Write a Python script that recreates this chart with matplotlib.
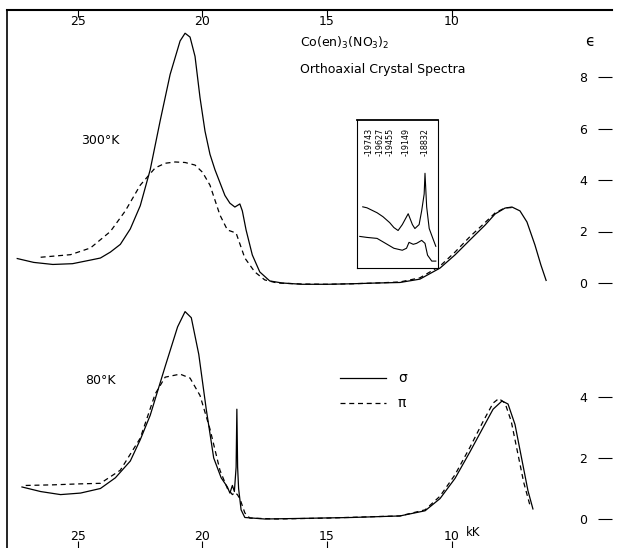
import matplotlib
matplotlib.use("Agg")
import matplotlib.pyplot as plt
from matplotlib.lines import Line2D

# --- 300 K spectra (kK, epsilon) ---
k300_sig = [27.44, 26.78, 26.01, 25.22, 24.45, 24.1, 23.7, 23.3, 22.9, 22.5, 22.1, 21.7,
            21.3, 20.9, 20.7, 20.5, 20.3, 20.1, 19.9, 19.7, 19.5, 19.3, 19.1, 18.9,
            18.7, 18.5, 18.4, 18.25, 18.0, 17.7, 17.3, 16.8, 16.0, 15.0, 14.0, 13.0,
            12.07, 11.27, 10.46, 9.86, 9.26, 8.65, 8.25, 7.85, 7.57, 7.25, 6.97, 6.65,
            6.41, 6.2]
e300_sig = [0.95, 0.8, 0.72, 0.75, 0.9, 0.97, 1.2, 1.5, 2.1, 3.0, 4.4, 6.3,
            8.1, 9.4, 9.7, 9.55, 8.8, 7.2, 5.9, 5.0, 4.4, 3.9, 3.4, 3.1,
            2.95, 3.07, 2.8, 2.06, 1.09, 0.43, 0.08, 0.0, -0.05, -0.05, -0.03, 0.0,
            0.02, 0.15, 0.58, 1.09, 1.67, 2.25, 2.68, 2.91, 2.95, 2.8, 2.37, 1.48,
            0.7, 0.1]

k300_pi = [26.5, 25.3, 24.5, 23.7, 23.1, 22.5, 21.9, 21.5, 21.1, 20.7, 20.3, 20.0,
           19.7, 19.3, 19.0, 18.65, 18.3, 17.9, 17.5, 17.0, 16.0, 15.0, 14.0, 13.0,
           12.07, 11.27, 10.46, 9.86, 9.26, 8.65, 8.25, 7.85, 7.57]
e300_pi = [1.0, 1.1, 1.36, 2.0, 2.8, 3.8, 4.47, 4.65, 4.7, 4.68, 4.58, 4.3,
           3.8, 2.64, 2.06, 1.94, 0.97, 0.43, 0.12, 0.0, -0.04, -0.05, -0.03, 0.0,
           0.04, 0.2, 0.66, 1.2, 1.8, 2.35, 2.72, 2.92, 2.93]

# --- 80 K spectra ---
k80_sig = [27.25, 26.5, 25.7, 24.9, 24.1, 23.5, 22.9, 22.5, 22.1, 21.5, 21.0, 20.7,
           20.45, 20.15, 19.85, 19.55, 19.25, 19.0, 18.9, 18.8, 18.72, 18.65, 18.62, 18.59,
           18.55, 18.45, 18.3, 17.5, 16.0, 14.0, 12.07, 11.06, 10.46, 9.86, 9.26, 8.73,
           8.33, 7.97, 7.73, 7.45, 7.17, 6.93, 6.73]
e80_sig = [1.05, 0.9, 0.8, 0.85, 1.0, 1.35, 1.9, 2.6, 3.4, 5.0, 6.3, 6.8,
           6.6, 5.4, 3.6, 2.0, 1.35, 1.05, 0.85, 1.1, 0.9, 1.7, 3.6, 1.7,
           1.0, 0.3, 0.05, 0.0, 0.02, 0.05, 0.1, 0.27, 0.67, 1.33, 2.2, 3.0,
           3.6, 3.87, 3.77, 3.1, 1.93, 0.93, 0.33]

k80_pi = [27.1, 26.0, 25.0, 24.1, 23.3, 22.5, 21.9, 21.5, 20.9, 20.5, 20.1, 19.7,
          19.3, 19.0, 18.8, 18.7, 18.6, 18.5, 18.3, 18.1, 17.0, 15.0, 13.0, 12.07,
          11.06, 10.46, 9.86, 9.26, 8.73, 8.33, 8.1, 7.85, 7.6, 7.35, 7.1, 6.85]
e80_pi = [1.1, 1.12, 1.15, 1.17, 1.6, 2.65, 4.1, 4.65, 4.75, 4.62, 4.05, 2.95,
          1.6, 1.0, 0.8, 0.87, 0.8, 0.67, 0.2, 0.03, 0.0, 0.03, 0.08, 0.1,
          0.3, 0.75, 1.45, 2.35, 3.2, 3.8, 3.95, 3.8, 3.2, 2.2, 1.2, 0.45]

# --- inset (cm-1, arbitrary intensity) ---
nu_in = [19880, 19809, 19639, 19540, 19427, 19356, 19285, 19214, 19115, 19044, 19002,
         18931, 18888, 18846, 18832, 18804, 18761, 18700, 18650]
in_sig = [62, 61, 56, 52, 46, 41, 38, 44, 55, 44, 40, 44, 58, 75, 96, 62, 40, 30, 22]
nu_in2 = [19930, 19809, 19639, 19497, 19356, 19214, 19143, 19101, 19030, 18973, 18888,
          18832, 18789, 18718, 18650]
in_pi = [32, 31, 30, 25, 20, 18, 20, 26, 24, 25, 28, 25, 13, 7, 7]
inset_lines = [19743, 19627, 19455, 19149, 18832]
inset_nudge = [-1.5, 1.5, 1.5, 0, 0]

x_ticks = [25, 20, 15, 10]
eps_300_ticks = [0, 2, 4, 6, 8]
eps_80_ticks = [0, 2, 4]

W, H = 636, 548
# vertical placement of the two stacked spectra (pixels from bottom, pixels per unit)
OFF300, S300 = 265, 25.75
OFF80, S80 = 29, 30.5


def kx(px):
    return (700.5 - px) / 24.9


fig = plt.figure(figsize=(W / 100, H / 100), dpi=100)
ax = fig.add_axes([7 / W, 0, (612 - 7) / W, 538 / H])
ax.set_xlim(kx(7), kx(612))
ax.set_ylim(0, 538)

lw = 0.9
ax.plot(k300_sig, [OFF300 + S300 * e for e in e300_sig], 'k-', lw=lw)
ax.plot(k300_pi, [OFF300 + S300 * e for e in e300_pi], 'k--', lw=lw, dashes=(4, 3))
ax.plot(k80_sig, [OFF80 + S80 * e for e in e80_sig], 'k-', lw=lw)
ax.plot(k80_pi, [OFF80 + S80 * e for e in e80_pi], 'k--', lw=lw, dashes=(4, 3))

ax.spines['right'].set_visible(False)
ax.spines['bottom'].set_visible(False)
ax.spines['top'].set_linewidth(1.5)
ax.spines['left'].set_linewidth(1.2)

ax.set_xticks(x_ticks)
ax.set_xticklabels([str(v) for v in x_ticks])
ax.tick_params(axis='x', top=True, bottom=True, labeltop=True, labelbottom=True,
               direction='in', length=5, pad=-13, labelsize=9)
ytick_pos = [OFF80 + S80 * e for e in eps_80_ticks] + [OFF300 + S300 * e for e in eps_300_ticks]
ytick_lab = [str(e) for e in eps_80_ticks] + [str(e) for e in eps_300_ticks]
ax.set_yticks(ytick_pos)
ax.set_yticklabels(ytick_lab)
ax.tick_params(axis='y', left=False, right=True, labelleft=False, labelright=True,
               direction='in', length=10, pad=-18, labelsize=9)
for lbl in ax.get_yticklabels():
    lbl.set_horizontalalignment('right')

fig.text(590 / W, 1 - 42 / H, 'ϵ', fontsize=11, ha='center', va='center')
fig.text(473 / W, 1 - 533 / H, 'kK', fontsize=8.5, ha='center', va='center')
fig.text(300 / W, 1 - 43 / H, r'Co(en)$_3$(NO$_3$)$_2$', fontsize=9, va='center')
fig.text(300 / W, 1 - 70 / H, 'Orthoaxial Crystal Spectra', fontsize=9, va='center')
fig.text(100 / W, 1 - 140 / H, '300°K', fontsize=9, ha='center', va='center')
fig.text(100 / W, 1 - 380 / H, '80°K', fontsize=9, ha='center', va='center')

# legend
fig.add_artist(Line2D([340 / W, 386 / W], [1 - 378 / H, 1 - 378 / H], color='k', lw=lw))
fig.add_artist(Line2D([340 / W, 386 / W], [1 - 403 / H, 1 - 403 / H], color='k', lw=lw,
                      ls='--', dashes=(4, 3)))
fig.text(398 / W, 1 - 378 / H, 'σ', fontsize=10, va='center')
fig.text(398 / W, 1 - 403 / H, 'π', fontsize=10, va='center')

# inset
axi = fig.add_axes([357 / W, 1 - 268 / H, 81 / W, 148 / H])
axi.set_xlim(19977, 18613)
axi.set_ylim(0, 150)
axi.plot(nu_in, in_sig, 'k-', lw=0.8)
axi.plot(nu_in2, in_pi, 'k-', lw=0.8)
axi.set_xticks([])
axi.set_yticks([])
for s in axi.spines.values():
    s.set_linewidth(0.8)
axi.spines['top'].set_linewidth(1.3)
for nu, dx in zip(inset_lines, inset_nudge):
    axi.annotate('-' + str(nu), (nu, 114), xytext=(dx, 0), textcoords='offset points',
                 rotation=90, fontsize=5.8, ha='center', va='bottom')

fig.savefig('out.png', dpi=100)
